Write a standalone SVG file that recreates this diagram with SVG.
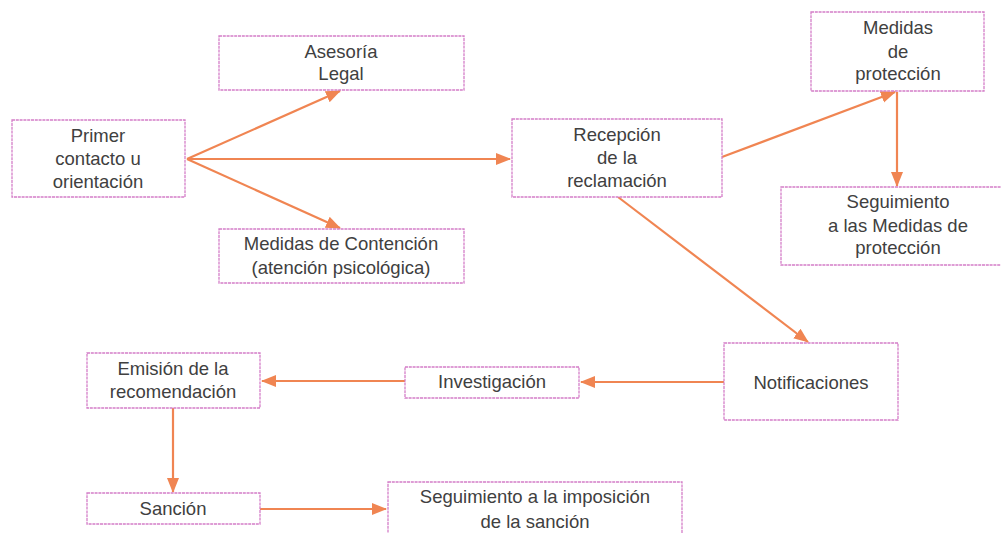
<svg xmlns="http://www.w3.org/2000/svg" width="1001" height="533" viewBox="0 0 1001 533">
<style>
.box{fill:#fff;stroke:#d47ec8;stroke-width:1.3;stroke-dasharray:3 0.8}
.t{font-family:"Liberation Sans",Arial,sans-serif;font-size:18.5px;fill:#404040;text-anchor:middle}
.c{stroke:#f08552;stroke-width:2.2;fill:none;marker-end:url(#ah)}
</style>
<defs>
<marker id="ah" markerUnits="userSpaceOnUse" markerWidth="16" markerHeight="14" refX="14" refY="6" orient="auto">
<path d="M0,0 L15,6 L0,12 Z" fill="#f08552"/>
</marker>
</defs>
<rect width="1001" height="533" fill="#fff"/>
<g id="connectors">
<line class="c" x1="187" y1="159" x2="340" y2="91"/>
<line class="c" x1="187" y1="159" x2="340" y2="228"/>
<line class="c" x1="187" y1="159" x2="510" y2="159"/>
<line class="c" x1="722" y1="157" x2="895" y2="92"/>
<line class="c" x1="897" y1="92" x2="897" y2="186"/>
<line class="c" x1="618" y1="197" x2="808" y2="342"/>
<line class="c" x1="724" y1="382" x2="581" y2="382"/>
<line class="c" x1="405" y1="381" x2="262" y2="381"/>
<line class="c" x1="173" y1="408" x2="173" y2="492"/>
<line class="c" x1="260" y1="509" x2="386" y2="509"/>
</g>
<g id="primer">
<rect class="box" x="12" y="120" width="173" height="77"/>
<text class="t" x="98" y="142">Primer</text>
<text class="t" x="98" y="165">contacto u</text>
<text class="t" x="98" y="188">orientación</text>
</g>
<g id="asesoria">
<rect class="box" x="219" y="36" width="245" height="54"/>
<text class="t" x="341" y="58">Asesoría</text>
<text class="t" x="341" y="80">Legal</text>
</g>
<g id="contencion">
<rect class="box" x="219" y="229" width="245" height="54"/>
<text class="t" x="341" y="250">Medidas de Contención</text>
<text class="t" x="341" y="274">(atención psicológica)</text>
</g>
<g id="recepcion">
<rect class="box" x="512" y="119" width="210" height="78"/>
<text class="t" x="617" y="141">Recepción</text>
<text class="t" x="617" y="164">de la</text>
<text class="t" x="617" y="187">reclamación</text>
</g>
<g id="medidas-proteccion">
<rect class="box" x="811" y="12" width="173" height="79"/>
<text class="t" x="898" y="34">Medidas</text>
<text class="t" x="898" y="58">de</text>
<text class="t" x="898" y="80">protección</text>
</g>
<g id="seguimiento-medidas">
<rect class="box" x="781" y="187" width="234" height="78"/>
<text class="t" x="898" y="208">Seguimiento</text>
<text class="t" x="898" y="232">a las Medidas de</text>
<text class="t" x="898" y="254">protección</text>
</g>
<g id="notificaciones">
<rect class="box" x="724" y="343" width="174" height="77"/>
<text class="t" x="811" y="389">Notificaciones</text>
</g>
<g id="investigacion">
<rect class="box" x="405" y="367" width="174" height="31"/>
<text class="t" x="492" y="388">Investigación</text>
</g>
<g id="emision">
<rect class="box" x="87" y="353" width="173" height="55"/>
<text class="t" x="173" y="375">Emisión de la</text>
<text class="t" x="173" y="398">recomendación</text>
</g>
<g id="sancion">
<rect class="box" x="87" y="493" width="173" height="31"/>
<text class="t" x="173" y="515">Sanción</text>
</g>
<g id="seguimiento-sancion">
<rect class="box" x="388" y="482" width="294" height="60"/>
<text class="t" x="535" y="503">Seguimiento a la imposición</text>
<text class="t" x="535" y="528">de la sanción</text>
</g>
</svg>
